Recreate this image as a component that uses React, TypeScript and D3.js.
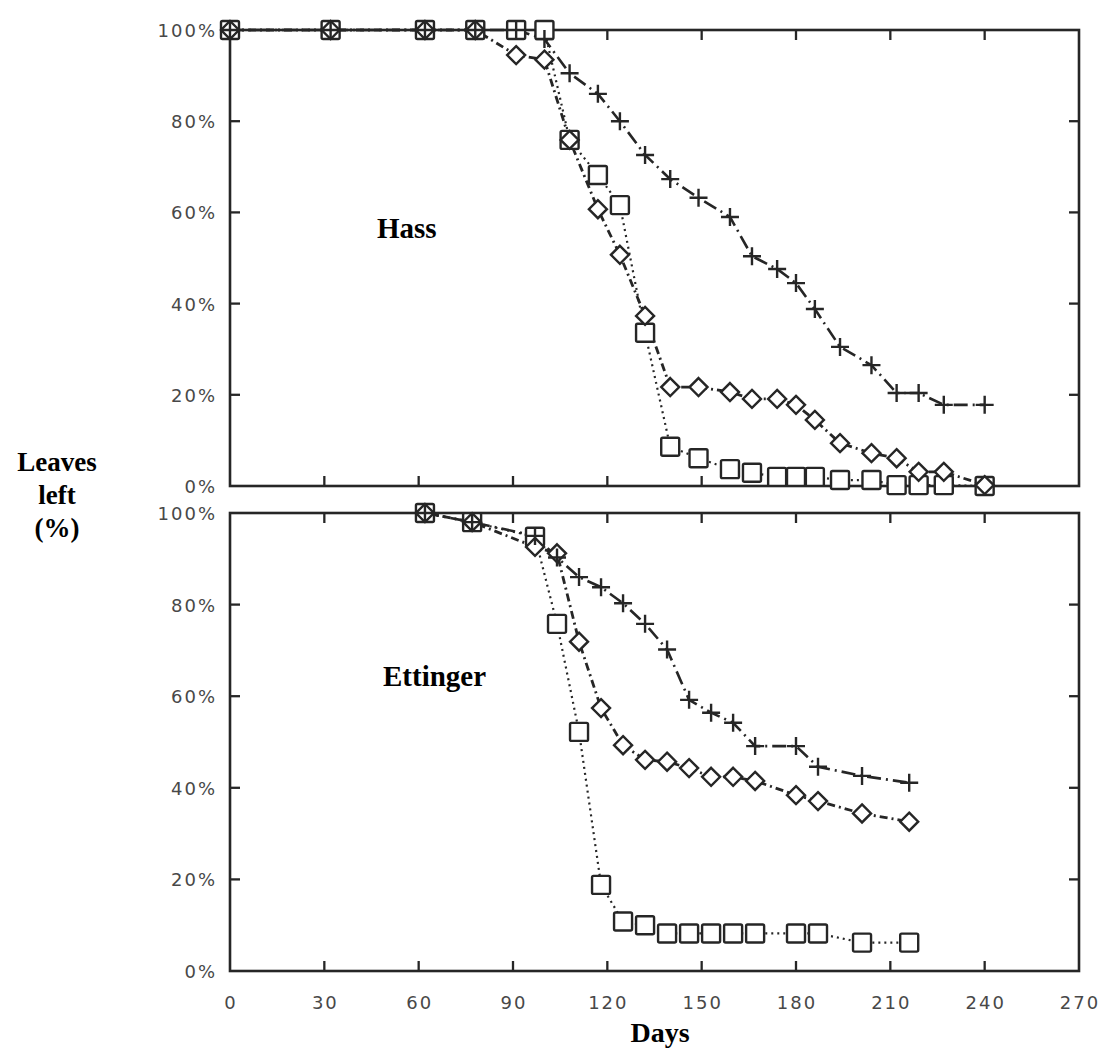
import React, { useEffect, useRef } from 'react';
import * as d3 from 'd3';

// days since start, top panel (Hass)
const hassDays = [0, 32, 62, 78, 91, 100, 108, 117, 124, 132, 140, 149, 159, 166, 174, 180, 186, 194, 204, 212, 219, 227, 240];
const hassPlus = [100, 100, 100, 100, 100, 98, 90.5, 86, 80, 72.6, 67.3, 63.2, 59, 50.4, 47.6, 44.5, 38.8, 30.5, 26.5, 20.4, 20.4, 17.8, 17.8];
const hassDiamond = [100, 100, 100, 100, 94.5, 93.5, 75.9, 60.7, 50.7, 37.3, 21.7, 21.7, 20.6, 19.1, 19.1, 17.8, 14.5, 9.4, 7.2, 6.1, 3.1, 3.1, 0.2];
const hassSquare = [100, 100, 100, 100, 100, 100, 75.9, 68.2, 61.6, 33.6, 8.6, 6.1, 3.7, 2.9, 2, 2, 2, 1.3, 1.3, 0.2, 0.2, 0.2, 0];

// bottom panel (Ettinger)
const ettDays = [62, 77, 97, 104, 111, 118, 125, 132, 139, 146, 153, 160, 167, 180, 187, 201, 216];
const ettPlus = [100, 98, 95, 90.3, 86, 83.8, 80.3, 75.8, 70.2, 59.2, 56.4, 54.2, 49.1, 49.1, 44.6, 42.6, 41.1];
const ettDiamond = [100, 98, 92.6, 91.2, 71.9, 57.4, 49.3, 46.1, 45.7, 44.3, 42.4, 42.4, 41.5, 38.4, 37.1, 34.4, 32.6];
const ettSquare = [100, 98, 94.8, 75.8, 52.2, 18.8, 10.8, 10, 8.2, 8.2, 8.2, 8.2, 8.2, 8.2, 8.2, 6.2, 6.2];

const dayTicks = [0, 30, 60, 90, 120, 150, 180, 210, 240, 270];
const pctTicks = [0, 20, 40, 60, 80, 100];

const ink = '#262626';
const labelColor = '#484848';
const tickFont = '"DejaVu Sans", sans-serif';
const titleFont = '"Liberation Serif", "Times New Roman", serif';

const x = d3.scaleLinear().domain([0, 270]).range([230, 1079]);

function drawPanel(svg, y, days, plus, diamond, square, title, titlePos, lastPanel) {
    const g = svg.append('g');
    const [x0, x1] = x.range();
    const [y0, y1] = y.range();

    // frame
    g.append('rect')
        .attr('x', x0).attr('y', y1)
        .attr('width', x1 - x0).attr('height', y0 - y1)
        .attr('fill', 'none').attr('stroke', ink).attr('stroke-width', 2.6);

    // inward ticks on all four sides
    dayTicks.slice(1, -1).forEach(d => {
        g.append('line').attr('x1', x(d)).attr('x2', x(d)).attr('y1', y0).attr('y2', y0 - 10)
            .attr('stroke', ink).attr('stroke-width', 2.3);
        g.append('line').attr('x1', x(d)).attr('x2', x(d)).attr('y1', y1).attr('y2', y1 + 10)
            .attr('stroke', ink).attr('stroke-width', 2.3);
    });
    pctTicks.slice(1, -1).forEach(p => {
        g.append('line').attr('x1', x0).attr('x2', x0 + 10).attr('y1', y(p)).attr('y2', y(p))
            .attr('stroke', ink).attr('stroke-width', 2.3);
        g.append('line').attr('x1', x1).attr('x2', x1 - 10).attr('y1', y(p)).attr('y2', y(p))
            .attr('stroke', ink).attr('stroke-width', 2.3);
    });

    // y labels
    g.selectAll('text.ylab')
        .data(pctTicks)
        .enter()
        .append('text')
        .attr('class', 'ylab')
        .attr('x', 217)
        .attr('y', p => y(p) + 7)
        .attr('text-anchor', 'end')
        .style('font-family', tickFont)
        .style('font-size', '18px')
        .style('letter-spacing', '2px')
        .attr('fill', labelColor)
        .text(p => p + '%');

    if (lastPanel) {
        g.selectAll('text.xlab')
            .data(dayTicks)
            .enter()
            .append('text')
            .attr('class', 'xlab')
            .attr('x', d => x(d) + 1)
            .attr('y', y0 + 38)
            .attr('text-anchor', 'middle')
            .style('font-family', tickFont)
            .style('font-size', '18px')
            .style('letter-spacing', '2px')
            .attr('fill', labelColor)
            .text(d => d);
    }

    g.append('text')
        .attr('x', titlePos[0]).attr('y', titlePos[1])
        .style('font-family', titleFont).style('font-weight', 'bold').style('font-size', '29px')
        .attr('fill', '#000')
        .text(title);

    const line = (vals) => d3.line().x((v, i) => x(days[i])).y(v => y(v))(vals);

    // series lines
    g.append('path').attr('d', line(square))
        .attr('fill', 'none').attr('stroke', ink).attr('stroke-width', 2.2)
        .attr('stroke-dasharray', '2 4');
    g.append('path').attr('d', line(diamond))
        .attr('fill', 'none').attr('stroke', ink).attr('stroke-width', 2.8)
        .attr('stroke-dasharray', '8 4 2 4');
    g.append('path').attr('d', line(plus))
        .attr('fill', 'none').attr('stroke', ink).attr('stroke-width', 2.6)
        .attr('stroke-dasharray', '14 5 2 5');

    // markers
    g.selectAll('rect.sq')
        .data(square)
        .enter()
        .append('rect')
        .attr('class', 'sq')
        .attr('x', (v, i) => x(days[i]) - 9)
        .attr('y', v => y(v) - 9)
        .attr('width', 18).attr('height', 18).attr('rx', 1.5)
        .attr('fill', '#fff').attr('stroke', ink).attr('stroke-width', 2.4);

    g.selectAll('path.dia')
        .data(diamond)
        .enter()
        .append('path')
        .attr('class', 'dia')
        .attr('d', (v, i) => {
            const cx = x(days[i]), cy = y(v), r = 9;
            return `M${cx},${cy - r}L${cx + r},${cy}L${cx},${cy + r}L${cx - r},${cy}Z`;
        })
        .attr('fill', '#fff').attr('stroke', ink).attr('stroke-width', 2.4);

    g.selectAll('path.plus')
        .data(plus)
        .enter()
        .append('path')
        .attr('class', 'plus')
        .attr('d', (v, i) => {
            const cx = x(days[i]), cy = y(v), r = 9;
            return `M${cx - r},${cy}H${cx + r}M${cx},${cy - r}V${cy + r}`;
        })
        .attr('fill', 'none').attr('stroke', ink).attr('stroke-width', 2.4);
}

export default function App() {
    const ref = useRef(null);

    useEffect(() => {
        const root = d3.select(ref.current);
        root.selectAll('*').remove();
        const svg = root.append('svg')
            .attr('width', 1106)
            .attr('height', 1052)
            .style('display', 'block')
            .style('background', '#fff');

        const yTop = d3.scaleLinear().domain([0, 100]).range([486, 30]);
        const yBottom = d3.scaleLinear().domain([0, 100]).range([971, 513]);

        drawPanel(svg, yTop, hassDays, hassPlus, hassDiamond, hassSquare, 'Hass', [377, 238], false);
        drawPanel(svg, yBottom, ettDays, ettPlus, ettDiamond, ettSquare, 'Ettinger', [383, 686], true);

        // shared axis titles
        const leaves = svg.append('text')
            .attr('text-anchor', 'middle')
            .style('font-family', titleFont).style('font-weight', 'bold').style('font-size', '27px')
            .attr('fill', '#000');
        ['Leaves', 'left', '(%)'].forEach((t, i) => {
            leaves.append('tspan').attr('x', 57).attr('y', 471 + i * 33).text(t);
        });

        svg.append('text')
            .attr('x', 660).attr('y', 1042)
            .attr('text-anchor', 'middle')
            .style('font-family', titleFont).style('font-weight', 'bold').style('font-size', '28px')
            .attr('fill', '#000')
            .text('Days');
    }, []);

    return <div ref={ref} style={{ position: 'absolute', left: 0, top: 0 }}></div>;
}
